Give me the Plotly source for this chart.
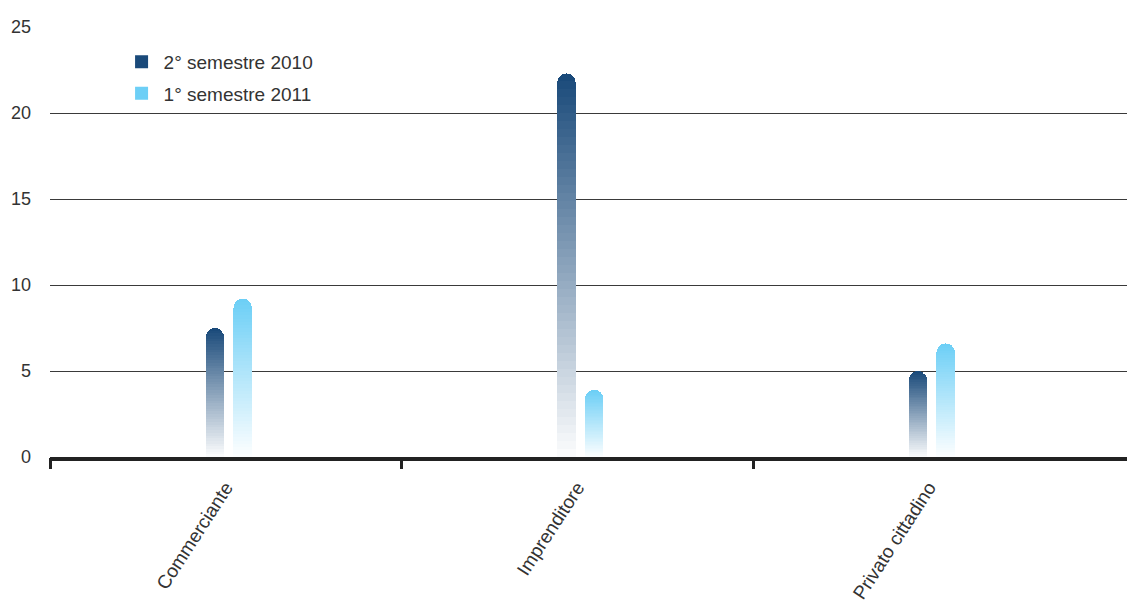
import plotly.graph_objects as go

categories = ["Commerciante", "Imprenditore", "Privato cittadino"]
series_names = ["2° semestre 2010", "1° semestre 2011"]
values_2010_s2 = [7.5, 22.3, 5.0]
values_2011_s1 = [9.2, 3.9, 6.6]
top_colors = ["#1a4a7a", "#6dcff6"]
boundary_ticks = [-0.5, 0.5, 1.5]
y_ticks = [0, 5, 10, 15, 20, 25]

N_STEPS = 48
X_RANGE = [-0.5, 2.564]


def mix_with_white(hex_color, t):
    r = int(hex_color[1:3], 16)
    g = int(hex_color[3:5], 16)
    b = int(hex_color[5:7], 16)
    return "rgb({},{},{})".format(
        round(255 + (r - 255) * t), round(255 + (g - 255) * t), round(255 + (b - 255) * t)
    )


fig = go.Figure()
series = [values_2010_s2, values_2011_s1]
axes = ["x", "x2"]
offsets = [-0.057, 0.022]
bar_width = 0.0526

for vals, name, col, xa, off in zip(series, series_names, top_colors, axes, offsets):
    for k in range(N_STEPS):
        t = (k + 1) / N_STEPS
        fig.add_trace(go.Bar(
            x=categories,
            y=[v / N_STEPS for v in vals],
            xaxis=xa, yaxis="y",
            offset=off, width=bar_width,
            marker=dict(color=mix_with_white(col, t), line=dict(width=0)),
            name=name, legendgroup=name,
            showlegend=False,
            hoverinfo="skip",
        ))

# legend entries (square swatches)
for name, col in zip(series_names, top_colors):
    fig.add_trace(go.Scatter(
        x=[None], y=[None], mode="markers", name=name, legendgroup=name,
        marker=dict(symbol="square", size=13, color=col, line=dict(width=0)),
        showlegend=True,
    ))

# carrier for the boundary tick axis
fig.add_trace(go.Scatter(x=[], y=[], xaxis="x3", yaxis="y", showlegend=False))

fig.update_layout(
    width=1127, height=603,
    margin=dict(l=50, r=0, t=27, b=146, autoexpand=False),
    barmode="stack",
    barcornerradius="50%",
    plot_bgcolor="white", paper_bgcolor="white",
    font=dict(family="Liberation Sans, Arial, sans-serif", size=18, color="#333333"),
    xaxis=dict(
        type="category", categoryorder="array", categoryarray=categories,
        range=X_RANGE, showgrid=False, zeroline=False, automargin=False,
        showline=True, linewidth=4, linecolor="#222222",
        ticks="", tickangle=-57, ticklabelstandoff=8,
        tickfont=dict(size=19),
    ),
    xaxis2=dict(
        type="category", categoryorder="array", categoryarray=categories,
        overlaying="x", matches="x", visible=False,
    ),
    xaxis3=dict(
        overlaying="x", range=X_RANGE, tickvals=boundary_ticks,
        ticks="outside", ticklen=11, tickwidth=3, tickcolor="#222222",
        showticklabels=False, showgrid=False, zeroline=False, showline=False,
        anchor="y", automargin=False,
    ),
    yaxis=dict(
        range=[0, 25], tickvals=y_ticks, automargin=False,
        showgrid=True, gridcolor="#3a3a3a", gridwidth=1.4,
        zeroline=False, showline=False, ticks="", ticklabelstandoff=18,
        tickfont=dict(size=18),
    ),
    legend=dict(
        x=0.0646, y=0.9633, xanchor="left", yanchor="top",
        traceorder="grouped", tracegroupgap=4, itemwidth=34,
        bgcolor="rgba(0,0,0,0)", font=dict(size=19, color="#333333"),
    ),
    showlegend=True,
)

fig.write_html(
    "out.html",
    config={"displayModeBar": False},
    post_script="document.body.style.margin='0';document.body.style.overflow='hidden';",
)
